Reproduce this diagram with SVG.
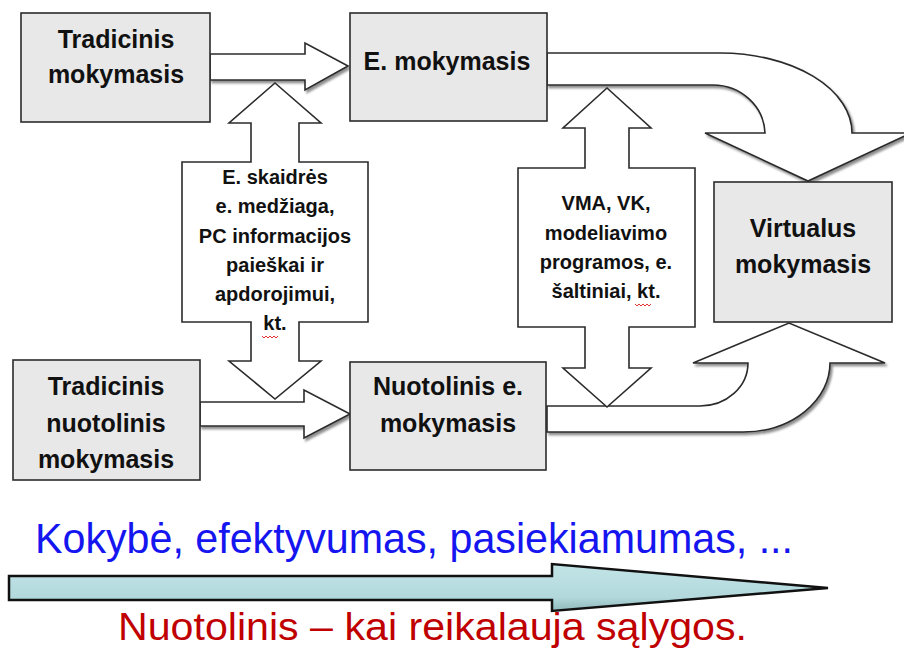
<svg xmlns="http://www.w3.org/2000/svg" width="904" height="655" viewBox="0 0 904 655">
  <style>
    .box { fill: #e8e8e8; stroke: #2b2b2b; stroke-width: 1.6; }
    .arrow { fill: #ffffff; stroke: #2b2b2b; stroke-width: 1.6; stroke-linejoin: miter; }
    .title { font-family: "Liberation Sans", Arial, sans-serif; font-weight: bold; font-size: 25px; fill: #111; text-anchor: middle; }
    .note { font-family: "Liberation Sans", Arial, sans-serif; font-weight: bold; font-size: 20px; fill: #111; text-anchor: middle; }
    .squiggle { fill: none; stroke: #e03030; stroke-width: 1; }
    .big { font-family: "Liberation Sans", Arial, sans-serif; }
  </style>
  <defs>
    <filter id="shadow" x="-10%" y="-10%" width="130%" height="140%">
      <feDropShadow dx="2" dy="2.5" stdDeviation="1.2" flood-color="#000" flood-opacity="0.45"/>
    </filter>
    <linearGradient id="cyan" x1="0" y1="0" x2="0" y2="1">
      <stop offset="0" stop-color="#c2e4e7"/>
      <stop offset="0.7" stop-color="#b3d9dc"/>
      <stop offset="1" stop-color="#8fb9bc"/>
    </linearGradient>
  </defs>

  <!-- connectors -->
  <g id="connectors">
    <!-- Tradicinis -> E. mokymasis -->
    <polygon class="arrow" filter="url(#shadow)" points="210,54 305,54 305,43 348,66 305,90 305,80 210,80"/>
    <!-- Tradicinis nuotolinis -> Nuotolinis e. -->
    <polygon class="arrow" filter="url(#shadow)" points="200,402 304,402 304,390 350,414 304,438 304,426 200,426"/>
    <!-- E. mokymasis -> Virtualus (curved) -->
    <path class="arrow" filter="url(#shadow)" d="M547,53 H720 A132,80 0 0 1 852,133 H911 L808,181 L705,133 H765 A52,50 0 0 0 713,85 H547 Z"/>
    <!-- Nuotolinis e. -> Virtualus (curved) -->
    <path class="arrow" filter="url(#shadow)" d="M547,406 H700 A48,43 0 0 0 748,363 H693 L789,323 L885,363 H830 A87,69 0 0 1 743,432 H547 Z"/>
  </g>

  <!-- nodes -->
  <g id="tradicinis">
    <rect class="box" x="21" y="13" width="189" height="109"/>
    <text class="title" x="116" y="48">Tradicinis</text>
    <text class="title" x="116" y="83">mokymasis</text>
  </g>

  <g id="e-mokymasis">
    <rect class="box" x="350" y="13" width="197" height="108"/>
    <text class="title" x="447" y="70">E. mokymasis</text>
  </g>

  <g id="tradicinis-nuotolinis">
    <rect class="box" x="13" y="360" width="187" height="120"/>
    <text class="title" x="106" y="395">Tradicinis</text>
    <text class="title" x="106" y="432">nuotolinis</text>
    <text class="title" x="106" y="468">mokymasis</text>
  </g>

  <g id="nuotolinis-e">
    <rect class="box" x="350" y="362" width="196" height="108"/>
    <text class="title" x="448" y="395">Nuotolinis e.</text>
    <text class="title" x="448" y="432">mokymasis</text>
  </g>

  <g id="virtualus">
    <rect class="box" x="714" y="182" width="178" height="140"/>
    <text class="title" x="803" y="237">Virtualus</text>
    <text class="title" x="803" y="273">mokymasis</text>
  </g>

  <!-- two-way arrow with the tools list (left) -->
  <g id="priemones-e">
    <polygon class="arrow" points="275,83 321,123 299,123 299,162 368,162 368,322 299,322 299,361 321,361 275,399 229,361 251,361 251,322 182,322 182,162 251,162 251,123 229,123"/>
    <text class="note" x="275" y="184">E. skaidrės</text>
    <text class="note" x="275" y="213">e. medžiaga,</text>
    <text class="note" x="275" y="243">PC informacijos</text>
    <text class="note" x="275" y="272">paieškai ir</text>
    <text class="note" x="275" y="301">apdorojimui,</text>
    <text class="note" x="275" y="330">kt.</text>
    <path class="squiggle" d="M262,336 l2,2 l2,-2 l2,2 l2,-2 l2,2 l2,-2 l2,2 l2,-2"/>
  </g>

  <!-- two-way arrow with the tools list (right) -->
  <g id="priemones-virtualios">
    <polygon class="arrow" points="607,88 651,128 629,128 629,168 695,168 695,327 629,327 629,368 651,368 607,407 563,368 585,368 585,327 518,327 518,168 585,168 585,128 563,128"/>
    <text class="note" x="606" y="210">VMA, VK,</text>
    <text class="note" x="606" y="240">modeliavimo</text>
    <text class="note" x="606" y="269">programos, e.</text>
    <text class="note" x="606" y="298">šaltiniai, kt.</text>
    <path class="squiggle" d="M635,304 l2,2 l2,-2 l2,2 l2,-2 l2,2 l2,-2 l2,2 l2,-2"/>
  </g>

  <!-- quality scale arrow -->
  <g id="kokybe">
    <text class="big" x="35" y="553" font-size="42" fill="#1515f0" textLength="758" lengthAdjust="spacingAndGlyphs">Kokybė, efektyvumas, pasiekiamumas, ...</text>
    <polygon points="9,576 552,576 552,564 828,588 552,611 552,600 9,600" fill="url(#cyan)" stroke="#111" stroke-width="2.5" stroke-linejoin="miter"/>
    <text class="big" x="118" y="640" font-size="38" fill="#c00000" textLength="629" lengthAdjust="spacingAndGlyphs">Nuotolinis – kai reikalauja sąlygos.</text>
  </g>
</svg>
